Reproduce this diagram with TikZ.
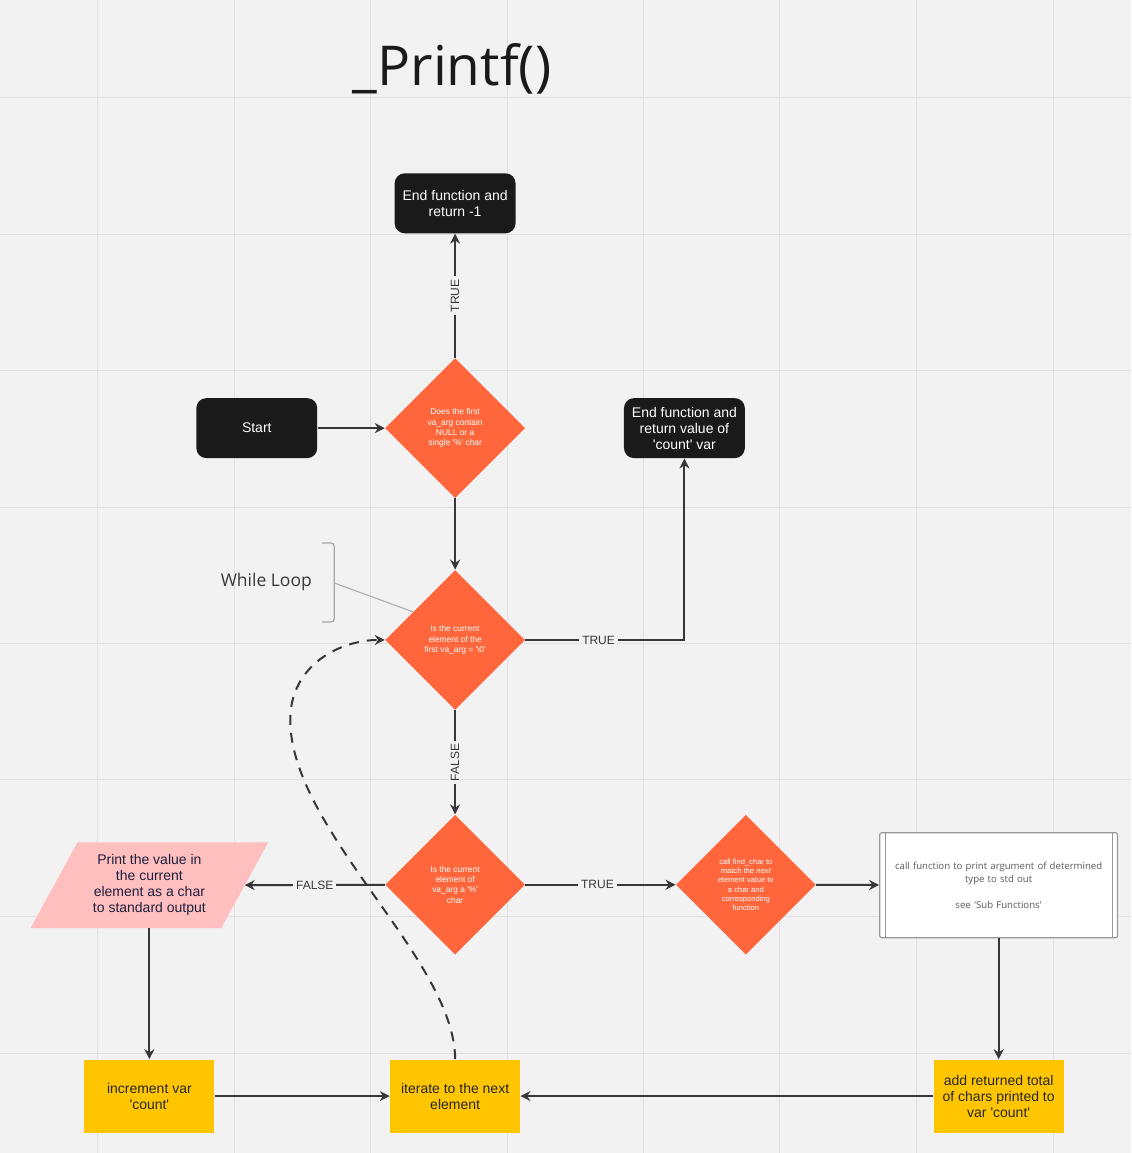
\documentclass[tikz,border=0pt]{standalone}
\usepackage{fontspec}
\setmainfont{Liberation Sans}[Ligatures=TeXOff]
\newfontfamily\opensans{Open Sans}[Ligatures=TeXOff]
\definecolor{bggray}{RGB}{242, 242, 242}
\definecolor{gridgray}{RGB}{224, 224, 224}
\definecolor{boxblack}{RGB}{26, 26, 26}
\definecolor{decorange}{RGB}{255, 102, 59}
\definecolor{stepyellow}{RGB}{255, 198, 0}
\definecolor{iopink}{RGB}{255, 191, 191}
\definecolor{inkgray}{RGB}{55, 55, 55}
\definecolor{navyink}{RGB}{30, 30, 62}
\usetikzlibrary{shapes.geometric, arrows.meta, calc, backgrounds}

\begin{document}
\begin{tikzpicture}[x=0.5pt, y=-0.5pt,
  termbox/.style={fill=boxblack, rounded corners=5pt, text=white, minimum width=60.5pt, minimum height=30pt, inner sep=1pt, align=center, font=\fontsize{7}{8}\selectfont},
  decision/.style={diamond, fill=decorange, minimum width=70pt, minimum height=70pt, inner sep=0pt, align=center, text=white, font=\fontsize{4.2}{5.2}\selectfont},
  stepbox/.style={fill=stepyellow, minimum width=65pt, minimum height=36.5pt, inner sep=1pt, align=center, text=black!85, font=\fontsize{7}{8}\selectfont},
  flow/.style={draw=inkgray, line width=1pt, -{Stealth[length=5pt, width=5pt]}},
  edgelabel/.style={fill=bggray, text=inkgray, inner sep=1.5pt, font=\fontsize{6}{7}\selectfont},
  gridline/.style={draw=gridgray, line width=0.5pt},
]
  % Canvas and grid
  \begin{scope}[on background layer]
    \fill[bggray] (0,0) rectangle (1131,1153);
    \foreach \g in {97,234,370,507,644,780,917,1054} {
      \draw[gridline] (\g,0) -- (\g,1153);
      \draw[gridline] (0,\g) -- (1131,\g);
    }
  \end{scope}
  \useasboundingbox (0,0) rectangle (1131,1153);

  \node[font=\opensans\fontsize{27.5}{30}\selectfont, text=boxblack] (title) at (452,68) {\_Printf()};

  % Terminals
  \node[termbox] (endfail) at (455,203) {End function and\\return -1};
  \node[termbox] (start) at (256.5,428) {Start};
  \node[termbox] (endok) at (684.5,428) {End function and\\return value of\\'count' var};

  % Decisions
  \node[decision] (nullcheck) at (455,428) {Does the first\\va\_arg contain\\NULL or a\\single '\%' char};
  \node[decision] (endcheck) at (455,640) {is the current\\element of the\\first va\_arg = '\textbackslash 0'};
  \node[decision] (pctcheck) at (455,885) {Is the current\\element of\\va\_arg a '\%'\\char};
  \node[decision, font=\fontsize{3.8}{4.6}\selectfont] (findchar) at (746,885) {call find\_char to\\match the \textit{next}\\element value to\\a char and\\corresponding\\function};

  % Process boxes
  \node[fill=white, draw=gray!80, line width=0.6pt, rounded corners=1pt, minimum width=119pt, minimum height=52.5pt, text width=112pt, inner sep=2pt, align=center, text=black!65, font=\opensans\fontsize{4.8}{6.5}\selectfont] (subfunc) at (999,885.5) {call function to print argument of determined\\type to std out\\[6.5pt]see 'Sub Functions'};
  \draw[draw=gray!80, line width=0.6pt] ([xshift=3pt]subfunc.north west) -- ([xshift=3pt]subfunc.south west);
  \draw[draw=gray!80, line width=0.6pt] ([xshift=-3pt]subfunc.north east) -- ([xshift=-3pt]subfunc.south east);

  \node[minimum width=95pt, minimum height=42.5pt, inner sep=1pt, align=center, text=navyink, font=\fontsize{7}{8}\selectfont] (printchar) at (149,885.5) {Print the value in\\the current\\element as a char\\to standard output};
  \begin{scope}[on background layer]
    \fill[iopink] ($(printchar.south west)+(-23.5,0)$) -- ($(printchar.south east)+(-23.5,0)$)
      -- ($(printchar.north east)+(23.5,0)$) -- ($(printchar.north west)+(23.5,0)$) -- cycle;
  \end{scope}

  \node[stepbox] (count) at (149,1096.5) {increment var\\'count'};
  \node[stepbox] (iter) at (455,1096.5) {iterate to the next\\element};
  \node[stepbox] (addtotal) at (999,1096.5) {add returned total\\of chars printed to\\var 'count'};

  % While loop note
  \node[font=\opensans\fontsize{8.75}{10}\selectfont, text=inkgray] (whileloop) at (266,582) {While Loop};
  \draw[draw=gray!70, line width=0.6pt, rounded corners=1.5pt] (322,543) -- (334,543) -- (334,622) -- (322,622);
  \coordinate (loopbrace) at (334,583);
  \draw[draw=gray!60, line width=0.6pt] (loopbrace) -- ($(endcheck.west)!0.4!(endcheck.north)$);

  % Connectors
  \draw[flow] (start) -- (nullcheck);
  \draw[flow] (nullcheck) -- node[edgelabel, rotate=90] {TRUE} (endfail);
  \draw[flow] (nullcheck) -- (endcheck);
  \draw[flow] (endcheck.east) -- node[edgelabel, pos=0.46] {TRUE} (endcheck.east -| endok) -- (endok);
  \draw[flow] (endcheck) -- node[edgelabel, rotate=90] {FALSE} (pctcheck);
  \draw[flow] (pctcheck) -- node[edgelabel] {FALSE} (printchar);
  \draw[flow] (pctcheck) -- node[edgelabel, pos=0.48] {TRUE} (findchar);
  \draw[flow] (findchar) -- (subfunc);
  \draw[flow] (subfunc) -- (addtotal);
  \draw[flow] (addtotal) -- (iter);
  \draw[flow] (count) -- (iter);
  \draw[flow] (printchar) -- (count);
  \draw[flow, dash pattern=on 5pt off 4pt] (iter.north) .. controls (455,960) and (290,830) .. (290,720)
    .. controls (290,665) and (340,640) .. (endcheck.west);
\end{tikzpicture}
\end{document}
